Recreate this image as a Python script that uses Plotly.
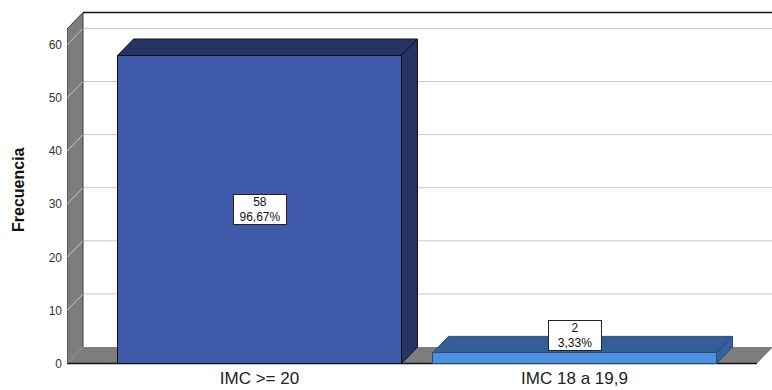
import plotly.graph_objects as go

# ---- data -------------------------------------------------------------
categories = ["IMC >= 20", "IMC 18 a 19,9"]
frequencies = [58, 2]
y_ticks = [0, 10, 20, 30, 40, 50, 60]

# ---- styling ----------------------------------------------------------
front_colors = ["#3F5AA8", "#4F8FE0"]
top_colors = ["#263565", "#355E97"]
side_colors = ["#263565", "#3461A0"]
edge_colors = ["#111111", "#2A4A78"]
WALL_GRAY = "#7D7D7D"
GRID_GRAY = "#C8C8C8"
FONT = "Arial, Liberation Sans, sans-serif"

# ---- geometry of the pseudo-3D frame (pixel based) ---------------------
W, H = 772, 390
PLOT_L, PLOT_R, PLOT_T, PLOT_B = 67, 772, 10, 366
ZERO_PX = 363.5          # pixel row of value 0 on the front plane
PX_PER_UNIT = 5.31       # pixels per frequency unit
FIRST_CENTER_PX = 259.5  # centre of the first category
CAT_STEP_PX = 315.0      # distance between category centres
DEPTH_PX_X, DEPTH_PX_Y = 16.0, 16.5

y_range = [(ZERO_PX - PLOT_B) / PX_PER_UNIT, (ZERO_PX - PLOT_T) / PX_PER_UNIT]
x_range = [(PLOT_L - FIRST_CENTER_PX) / CAT_STEP_PX, (PLOT_R - FIRST_CENTER_PX) / CAT_STEP_PX]
DX = DEPTH_PX_X / CAT_STEP_PX
DY = DEPTH_PX_Y / PX_PER_UNIT
BAR_W = 284.0 / CAT_STEP_PX
WALL_TOP = 63.0
X_LEFT = x_range[0]
X_FLOOR_END = (757 - FIRST_CENTER_PX) / CAT_STEP_PX
X_FAR = x_range[1] + 1.0


def path(points):
    return "M " + " L ".join(f"{x},{y}" for x, y in points) + " Z"


shapes = []

def add_poly(points, fill, line_color, line_width=1.0):
    shapes.append(dict(type="path", xref="x", yref="y", path=path(points),
                       fillcolor=fill, line=dict(color=line_color, width=line_width),
                       layer="below"))

def add_line(x0, y0, x1, y1, color, width=1.0):
    shapes.append(dict(type="line", xref="x", yref="y", x0=x0, y0=y0, x1=x1, y1=y1,
                       line=dict(color=color, width=width), layer="below"))

# back wall
add_poly([(X_LEFT + DX, DY), (X_FAR, DY), (X_FAR, WALL_TOP + DY), (X_LEFT + DX, WALL_TOP + DY)],
         "white", "rgba(0,0,0,0)", 0)
# grid lines on the back wall and the left wall
for v in y_ticks[1:]:
    add_line(X_LEFT + DX, v + DY, X_FAR, v + DY, GRID_GRAY, 1)
# left wall
add_poly([(X_LEFT, 0), (X_LEFT + DX, DY), (X_LEFT + DX, WALL_TOP + DY), (X_LEFT, WALL_TOP)],
         WALL_GRAY, "#3A3A3A", 1)
for v in y_ticks[1:]:
    add_line(X_LEFT, v, X_LEFT + DX, v + DY, GRID_GRAY, 1)
# top edge of the back wall
add_line(X_LEFT + DX, WALL_TOP + DY, X_FAR, WALL_TOP + DY, "#111111", 1.5)
# floor
add_poly([(X_LEFT, 0), (X_FLOOR_END, 0), (X_FLOOR_END + DX, DY), (X_LEFT + DX, DY)],
         WALL_GRAY, "rgba(0,0,0,0)", 0)
add_line(X_LEFT, 0, X_FLOOR_END, 0, "#111111", 1.5)
add_line(X_LEFT, 0, X_LEFT + DX, DY, "#9A9A9A", 1)

# top and side faces of each bar
for i, val in enumerate(frequencies):
    x0, x1 = i - BAR_W / 2, i + BAR_W / 2
    add_poly([(x0, val), (x1, val), (x1 + DX, val + DY), (x0 + DX, val + DY)],
             top_colors[i], edge_colors[i], 1)
    add_poly([(x1, 0), (x1 + DX, DY), (x1 + DX, val + DY), (x1, val)],
             side_colors[i], edge_colors[i], 1)

# front faces as a bar trace
fig = go.Figure(go.Bar(
    x=list(range(len(categories))), y=frequencies, width=BAR_W,
    marker=dict(color=front_colors, line=dict(color=edge_colors, width=1)),
    hoverinfo="skip",
))

# value / percentage labels
total = sum(frequencies)
annotations = []
for i, val in enumerate(frequencies):
    pct = f"{100 * val / total:.2f}".replace(".", ",") + "%"
    bar_px = val * PX_PER_UNIT
    inside = bar_px > 40
    annotations.append(dict(
        x=i, y=val / 2 if inside else val, xref="x", yref="y",
        text=f"{val}<br>{pct}", showarrow=False,
        yanchor="middle" if inside else "bottom", yshift=0 if inside else 2,
        font=dict(family=FONT, size=12, color="#111111"),
        bgcolor="white", bordercolor="#222222", borderwidth=1, borderpad=1,
        width=50, height=27, align="center",
    ))

annotations.append(dict(
    x=0, y=0.5, xref="paper", yref="paper", xshift=-49, yshift=-2,
    text="<b>Frecuencia</b>", textangle=-90, showarrow=False,
    xanchor="center", yanchor="middle",
    font=dict(family=FONT, size=16, color="#111111"),
))

fig.update_layout(
    width=W, height=H,
    margin=dict(l=PLOT_L, r=W - PLOT_R, t=PLOT_T, b=H - PLOT_B),
    paper_bgcolor="white", plot_bgcolor="white",
    showlegend=False,
    shapes=shapes,
    annotations=annotations,
    bargap=0,
    xaxis=dict(range=x_range, tickvals=list(range(len(categories))), ticktext=categories,
               showgrid=False, zeroline=False, showline=False, ticks="",
               tickfont=dict(family=FONT, size=17, color="#222222")),
    yaxis=dict(range=y_range, tickvals=y_ticks, showgrid=False, zeroline=False,
               showline=False, ticks="", ticklabelstandoff=4,
               tickfont=dict(family=FONT, size=12, color="#333333")),
)

fig.write_html("out.html")
